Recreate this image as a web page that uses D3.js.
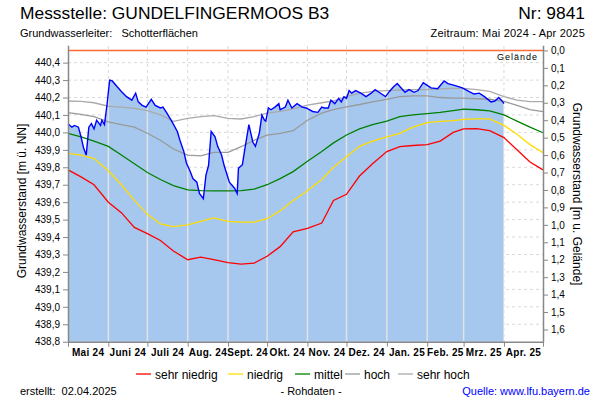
<!DOCTYPE html>
<html>
<head>
<meta charset="utf-8">
<script src="https://cdn.jsdelivr.net/npm/d3@7"></script>
<style>
body { margin: 0; background: #fff; }
text { font-family: Arial, "Liberation Sans", sans-serif; }
</style>
</head>
<body>
<script>
var w = 600;
var h = 400;

// measured level (Rohdaten)
var measDates = ["2024-05-01","2024-05-04","2024-05-06","2024-05-09","2024-05-11","2024-05-13","2024-05-15","2024-05-17","2024-05-19","2024-05-21","2024-05-23","2024-05-26","2024-05-27","2024-05-29","2024-05-31",
  "2024-06-02","2024-06-04","2024-06-08","2024-06-11","2024-06-15","2024-06-19","2024-06-22","2024-06-24","2024-06-27","2024-06-30",
  "2024-07-04","2024-07-07","2024-07-11","2024-07-13","2024-07-16","2024-07-20","2024-07-24","2024-07-26","2024-07-29","2024-07-31",
  "2024-08-03","2024-08-05","2024-08-08","2024-08-10","2024-08-13","2024-08-15","2024-08-17","2024-08-19","2024-08-22","2024-08-24","2024-08-27","2024-08-29",
  "2024-09-02","2024-09-06","2024-09-08","2024-09-09","2024-09-12","2024-09-14","2024-09-17","2024-09-20","2024-09-22","2024-09-25","2024-09-27","2024-09-29","2024-09-30",
  "2024-10-02","2024-10-04","2024-10-07","2024-10-10","2024-10-11","2024-10-15","2024-10-17","2024-10-20","2024-10-24","2024-10-28","2024-10-31",
  "2024-11-05","2024-11-09","2024-11-12","2024-11-14","2024-11-17","2024-11-19","2024-11-22","2024-11-25","2024-11-27","2024-11-29",
  "2024-12-01","2024-12-03","2024-12-05","2024-12-08","2024-12-12","2024-12-16","2024-12-20","2024-12-23","2024-12-26","2024-12-31",
  "2025-01-03","2025-01-06","2025-01-09","2025-01-12","2025-01-15","2025-01-18","2025-01-22","2025-01-25","2025-01-29",
  "2025-02-01","2025-02-04","2025-02-09","2025-02-14","2025-02-17","2025-02-22","2025-02-28",
  "2025-03-05","2025-03-09","2025-03-13","2025-03-17","2025-03-22","2025-03-25","2025-03-28","2025-03-30","2025-04-01"];
var measValues = [440.05,440.03,440.04,440.03,439.975,439.91,439.87,440.03,440.05,440.02,440.07,440.04,440.07,440.045,440.16,
  440.30,440.295,440.26,440.235,440.205,440.185,440.225,440.175,440.155,440.145,
  440.19,440.155,440.14,440.145,440.11,440.06,440.005,439.955,439.89,439.825,
  439.775,439.735,439.715,439.65,439.62,439.755,439.81,440.005,439.975,439.92,439.87,439.81,
  439.715,439.68,439.65,439.795,439.815,439.91,440.045,439.945,439.92,439.995,440.10,440.07,440.065,
  440.14,440.13,440.145,440.165,440.13,440.145,440.185,440.14,440.165,440.145,440.14,
  440.12,440.115,440.145,440.14,440.14,440.185,440.165,440.195,440.175,440.205,
  440.195,440.24,440.225,440.24,440.225,440.205,440.225,440.245,440.23,440.205,
  440.235,440.26,440.28,440.255,440.23,440.245,440.23,440.24,440.285,
  440.27,440.255,440.25,440.295,440.28,440.27,440.255,
  440.235,440.22,440.225,440.205,440.175,440.18,440.20,440.185,440.165];

// statistics (sehr niedrig ... sehr hoch)
var statDates = ["2024-05-01","2024-05-11","2024-05-21","2024-06-01","2024-06-11","2024-06-21","2024-07-01","2024-07-11","2024-07-21",
  "2024-08-01","2024-08-11","2024-08-21","2024-09-01","2024-09-11","2024-09-21","2024-10-01","2024-10-11","2024-10-21",
  "2024-11-01","2024-11-12","2024-11-21","2024-12-01","2024-12-11","2024-12-21","2025-01-01","2025-01-11","2025-01-21",
  "2025-02-01","2025-02-11","2025-02-21","2025-03-01","2025-03-11","2025-03-21","2025-04-01","2025-04-11","2025-04-21","2025-05-01"];
var sehrNiedrig = [439.785,439.745,439.70,439.60,439.54,439.455,439.42,439.38,439.32,439.27,439.285,439.27,439.253,439.245,439.25,439.29,439.345,439.43,
  439.45,439.48,439.61,439.645,439.75,439.82,439.89,439.918,439.925,439.93,439.95,440.0,440.02,440.022,440.01,439.97,439.90,439.83,439.785];
var niedrig = [439.88,439.87,439.85,439.78,439.70,439.61,439.53,439.475,439.46,439.47,439.49,439.51,439.49,439.486,439.486,439.505,439.55,439.61,
  439.665,439.73,439.80,439.86,439.92,439.95,439.975,439.995,440.03,440.056,440.063,440.068,440.075,440.078,440.078,440.04,439.99,439.93,439.884];
var mittel = [439.995,439.975,439.95,439.92,439.87,439.82,439.77,439.73,439.695,439.67,439.666,439.665,439.665,439.666,439.675,439.70,439.735,439.775,
  439.835,439.89,439.94,439.985,440.02,440.045,440.065,440.09,440.10,440.108,440.115,440.125,440.133,440.13,440.123,440.10,440.065,440.03,439.998];
var hoch = [440.113,440.103,440.09,440.06,440.045,440.03,439.995,439.955,439.905,439.87,439.865,439.886,439.886,439.918,439.955,439.985,439.995,440.01,
  440.07,440.11,440.13,440.147,440.16,440.175,440.19,440.205,440.21,440.21,440.20,440.197,440.196,440.193,440.19,440.178,440.155,440.13,440.119];
var sehrHoch = [440.18,440.178,440.17,440.15,440.145,440.138,440.125,440.10,440.063,440.08,440.09,440.096,440.08,440.077,440.09,440.11,440.12,440.135,
  440.157,440.17,440.18,440.205,440.224,440.235,440.24,440.243,440.245,440.246,440.25,440.252,440.253,440.245,440.235,440.205,440.185,440.176,440.176];

var gelaende = 440.47;
var leftTicks = [438.8,438.9,439.0,439.1,439.2,439.3,439.4,439.5,439.6,439.7,439.8,439.9,440.0,440.1,440.2,440.3,440.4];
var rightTicks = [0,0.1,0.2,0.3,0.4,0.5,0.6,0.7,0.8,0.9,1.0,1.1,1.2,1.3,1.4,1.5,1.6];
var monthLabels = ["Mai 24","Juni 24","Juli 24","Aug. 24","Sept. 24","Okt. 24","Nov. 24","Dez. 24","Jan. 25","Feb. 25","Mrz. 25","Apr. 25"];

var parse = d3.timeParse("%Y-%m-%d");
var de = d3.formatLocale({decimal: ",", thousands: ".", grouping: [3], currency: ["", " €"]});
var fmt = de.format(".1f");

var svg = d3.select("body")
    .append("svg")
    .attr("width", w)
    .attr("height", h);

var x = d3.scaleTime()
    .domain([parse("2024-05-01"), parse("2025-05-01")])
    .range([68, 543]);
var y = d3.scaleLinear()
    .domain([438.8, 440.5])
    .range([341.7, 45.2]);

var meas = measDates.map(function(d, i) { return {date: parse(d), v: measValues[i]}; });
var sDates = statDates.map(parse);
var months = d3.timeMonth.range(parse("2024-05-01"), parse("2025-05-02"));

// dashed grid
svg.append("g").selectAll("line")
    .data(leftTicks.slice(1))
    .enter().append("line")
    .attr("x1", 68).attr("x2", 543)
    .attr("y1", function(d) { return y(d); })
    .attr("y2", function(d) { return y(d); })
    .attr("stroke", "#d9d9d9")
    .attr("stroke-dasharray", "3,3");
svg.append("g").selectAll("line")
    .data(months.slice(1, 12))
    .enter().append("line")
    .attr("x1", function(d) { return x(d); })
    .attr("x2", function(d) { return x(d); })
    .attr("y1", 46).attr("y2", 341.7)
    .attr("stroke", "#d9d9d9")
    .attr("stroke-dasharray", "3,3");

// filled measured area
var area = d3.area()
    .x(function(d) { return x(d.date); })
    .y0(y(438.8))
    .y1(function(d) { return y(d.v); });

svg.append("clipPath").attr("id", "fillclip")
    .append("path").attr("d", area(meas));

svg.append("path")
    .attr("d", area(meas))
    .attr("fill", "#a6c8ef");

svg.append("g").attr("clip-path", "url(#fillclip)")
    .selectAll("line")
    .data(months.slice(1, 12))
    .enter().append("line")
    .attr("x1", function(d) { return x(d); })
    .attr("x2", function(d) { return x(d); })
    .attr("y1", 46).attr("y2", 341.7)
    .attr("stroke", "#e2e2e2")
    .attr("stroke-width", 1.5);

// statistic lines
var series = [
  {vals: sehrHoch, color: "#aaaaaa"},
  {vals: hoch, color: "#999999"},
  {vals: mittel, color: "#008000"},
  {vals: niedrig, color: "#ffdd00"},
  {vals: sehrNiedrig, color: "#ff0000"}
];
var line = d3.line()
    .x(function(d) { return x(d[0]); })
    .y(function(d) { return y(d[1]); });

svg.append("g").selectAll("path")
    .data(series)
    .enter().append("path")
    .attr("d", function(s) { return line(sDates.map(function(d, i) { return [d, s.vals[i]]; })); })
    .attr("fill", "none")
    .attr("stroke", function(s) { return s.color; })
    .attr("stroke-width", 1.3);

// measured line
svg.append("path")
    .attr("d", line(meas.map(function(d) { return [d.date, d.v]; })))
    .attr("fill", "none")
    .attr("stroke", "#0000ff")
    .attr("stroke-width", 1.4);

// ground level
svg.append("line")
    .attr("x1", 68).attr("x2", 543)
    .attr("y1", y(gelaende)).attr("y2", y(gelaende))
    .attr("stroke", "#ff6a33")
    .attr("stroke-width", 1.5);
svg.append("text")
    .attr("x", 538).attr("y", 60)
    .attr("text-anchor", "end")
    .attr("font-size", "9px")
    .attr("letter-spacing", "1")
    .text("Gelände");

// axes
var axisL = svg.append("g")
    .attr("transform", "translate(68,0)")
    .call(d3.axisLeft(y).tickValues(leftTicks).tickFormat(fmt).tickSize(5).tickSizeOuter(0));
var axisR = svg.append("g")
    .attr("transform", "translate(543,0)")
    .call(d3.axisRight(d3.scaleLinear().domain([gelaende - 438.8, gelaende - 440.5]).range([341.7, 45.2]))
      .tickValues(rightTicks).tickFormat(fmt).tickSize(5).tickSizeOuter(0));
var axisB = svg.append("g")
    .attr("transform", "translate(0,341.7)")
    .call(d3.axisBottom(x).tickValues(months).tickFormat("").tickSize(5).tickSizeOuter(0));

[axisL, axisR, axisB].forEach(function(a) {
  a.selectAll(".domain").attr("stroke", "#888").attr("stroke-width", 1.5);
  a.selectAll(".tick line").attr("stroke", "#888");
  a.selectAll("text").attr("font-size", "10px").attr("fill", "#000")
    .attr("font-family", "Arial, 'Liberation Sans', sans-serif");
});

svg.append("g").selectAll("text")
    .data(monthLabels)
    .enter().append("text")
    .attr("x", function(d, i) { return (x(months[i]) + x(months[i + 1])) / 2; })
    .attr("y", 356)
    .attr("text-anchor", "middle")
    .attr("font-size", "10px")
    .attr("font-weight", "bold")
    .attr("letter-spacing", "0.3")
    .text(function(d) { return d; });

// axis titles
svg.append("text")
    .attr("transform", "translate(26,201) rotate(-90)")
    .attr("text-anchor", "middle")
    .attr("font-size", "12px")
    .text("Grundwasserstand [m ü. NN]");
svg.append("text")
    .attr("transform", "translate(573,194) rotate(90)")
    .attr("text-anchor", "middle")
    .attr("font-size", "12px")
    .text("Grundwasserstand [m u. Gelände]");

// header
svg.append("text").attr("x", 20).attr("y", 19)
    .attr("font-size", "17.4px").text("Messstelle: GUNDELFINGERMOOS B3");
svg.append("text").attr("x", 585).attr("y", 19).attr("text-anchor", "end")
    .attr("font-size", "17.4px").text("Nr: 9841");
svg.append("text").attr("x", 20).attr("y", 37)
    .attr("font-size", "11px").attr("xml:space", "preserve").text("Grundwasserleiter:   Schotterflächen");
svg.append("text").attr("x", 585).attr("y", 37).attr("text-anchor", "end")
    .attr("font-size", "11px").attr("letter-spacing", "0.2").text("Zeitraum: Mai 2024 - Apr 2025");

// legend
var legendNames = ["sehr niedrig", "niedrig", "mittel", "hoch", "sehr hoch"];
var legendColors = ["#ff0000", "#ffdd00", "#008000", "#999999", "#aaaaaa"];
var legendX = [136, 228, 295, 345, 398];
var lg = svg.append("g").selectAll("g")
    .data(legendNames)
    .enter().append("g")
    .attr("transform", function(d, i) { return "translate(" + legendX[i] + ",374)"; });
lg.append("line")
    .attr("x1", 0).attr("x2", 15)
    .attr("stroke", function(d, i) { return legendColors[i]; })
    .attr("stroke-width", 1.3);
lg.append("text")
    .attr("x", 19).attr("y", 4.5)
    .attr("font-size", "12px")
    .text(function(d) { return d; });

// footer
svg.append("text").attr("x", 20).attr("y", 395)
    .attr("font-size", "11px").attr("xml:space", "preserve").text("erstellt:  02.04.2025");
svg.append("text").attr("x", 311).attr("y", 395).attr("text-anchor", "middle")
    .attr("font-size", "11px").text("- Rohdaten -");
svg.append("text").attr("x", 590).attr("y", 395).attr("text-anchor", "end")
    .attr("font-size", "11px").attr("fill", "#0000ff").text("Quelle: www.lfu.bayern.de");
</script>
</body>
</html>
